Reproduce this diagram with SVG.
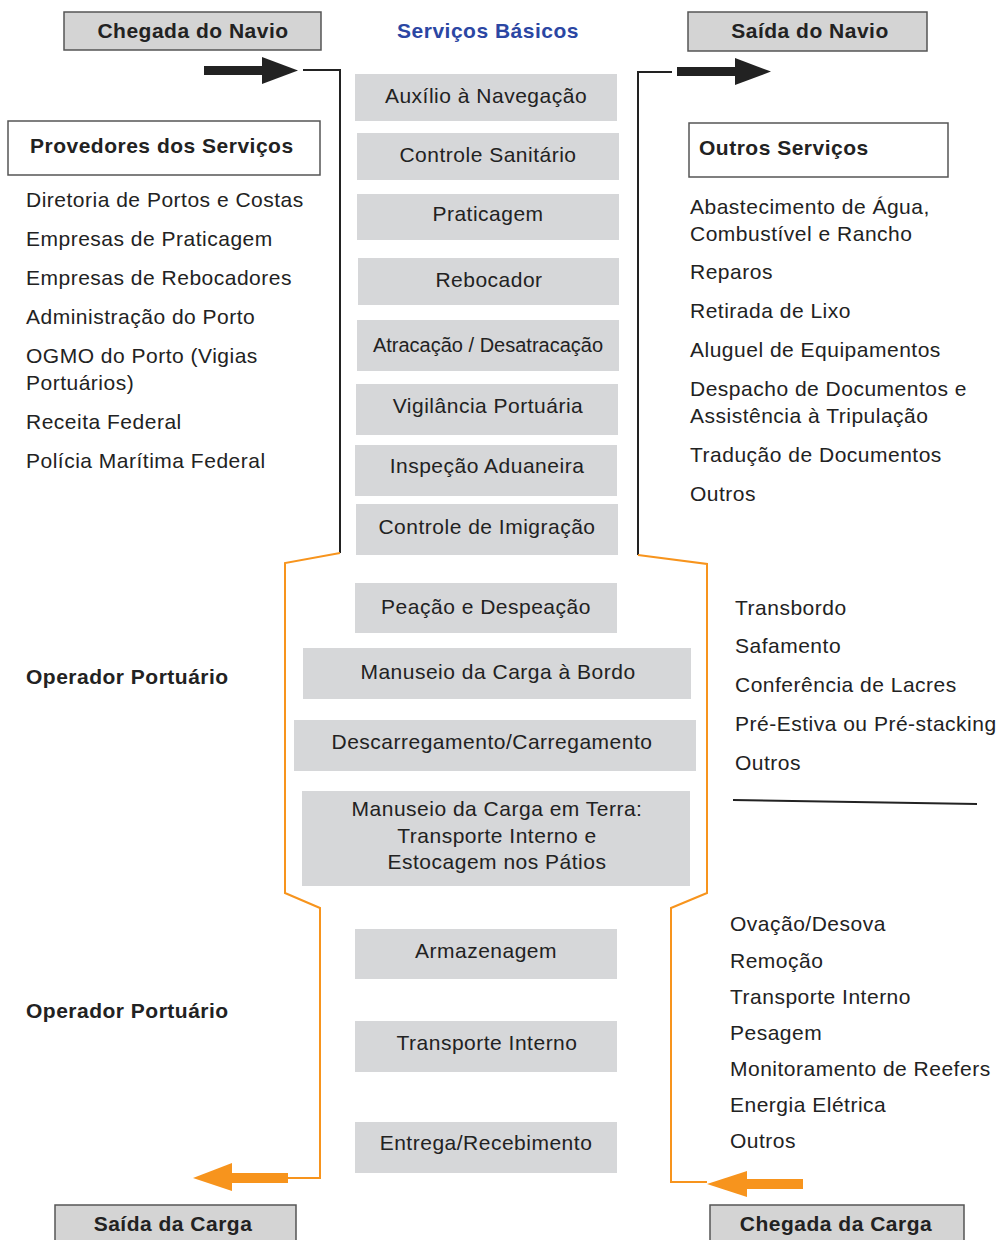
<svg xmlns="http://www.w3.org/2000/svg" width="1000" height="1240" viewBox="0 0 1000 1240">
<style>
  text { font-family: "Liberation Sans", Arial, sans-serif; fill: #222; letter-spacing: 0.5px; }
  .hdr { font-size: 21px; font-weight: bold; }
  .hbox { fill: #d4d4d4; stroke: #555; stroke-width: 1.5; }
  .wbox { fill: #fff; stroke: #555; stroke-width: 1.5; }
  .svc { fill: #d6d7d9; }
  .st { font-size: 21px; text-anchor: middle; }
  .lst { font-size: 21px; }
  .blk { fill: none; stroke: #222; stroke-width: 2; }
  .org { fill: none; stroke: #f7941d; stroke-width: 2; }
</style>
<rect width="1000" height="1240" fill="#fff"/>

<g id="chegada-navio">
  <rect class="hbox" x="64" y="12" width="257" height="38"/>
  <text class="hdr" x="193" y="38" text-anchor="middle">Chegada do Navio</text>
</g>
<g id="saida-navio">
  <rect class="hbox" x="688" y="12" width="239" height="39"/>
  <text class="hdr" x="810" y="38" text-anchor="middle">Saída do Navio</text>
</g>
<g id="titulo">
  <text x="488" y="38" text-anchor="middle" style="font-size:21px;font-weight:bold;fill:#2b46a3">Serviços Básicos</text>
</g>

<g id="provedores">
  <rect class="wbox" x="8" y="121" width="312" height="54"/>
  <text class="hdr" x="30" y="153">Provedores dos Serviços</text>
  <text class="lst" x="26" y="207">Diretoria de Portos e Costas</text>
  <text class="lst" x="26" y="246">Empresas de Praticagem</text>
  <text class="lst" x="26" y="285">Empresas de Rebocadores</text>
  <text class="lst" x="26" y="324">Administração do Porto</text>
  <text class="lst" x="26" y="363">OGMO do Porto (Vigias</text>
  <text class="lst" x="26" y="390">Portuários)</text>
  <text class="lst" x="26" y="429">Receita Federal</text>
  <text class="lst" x="26" y="468">Polícia Marítima Federal</text>
</g>

<g id="outros-servicos">
  <rect class="wbox" x="689" y="123" width="259" height="54"/>
  <text class="hdr" x="699" y="155">Outros Serviços</text>
  <text class="lst" x="690" y="214">Abastecimento de Água,</text>
  <text class="lst" x="690" y="241">Combustível e Rancho</text>
  <text class="lst" x="690" y="279">Reparos</text>
  <text class="lst" x="690" y="318">Retirada de Lixo</text>
  <text class="lst" x="690" y="357">Aluguel de Equipamentos</text>
  <text class="lst" x="690" y="396">Despacho de Documentos e</text>
  <text class="lst" x="690" y="423">Assistência à Tripulação</text>
  <text class="lst" x="690" y="462">Tradução de Documentos</text>
  <text class="lst" x="690" y="501">Outros</text>
</g>

<g id="operador1">
  <text class="hdr" x="26" y="684">Operador Portuário</text>
</g>
<g id="operador2">
  <text class="hdr" x="26" y="1018">Operador Portuário</text>
</g>

<g id="lista-bordo">
  <text class="lst" x="735" y="615">Transbordo</text>
  <text class="lst" x="735" y="653">Safamento</text>
  <text class="lst" x="735" y="692">Conferência de Lacres</text>
  <text class="lst" x="735" y="731">Pré-Estiva ou Pré-stacking</text>
  <text class="lst" x="735" y="770">Outros</text>
  <line x1="733" y1="800" x2="977" y2="804" stroke="#222" stroke-width="2"/>
</g>

<g id="lista-terra">
  <text class="lst" x="730" y="931">Ovação/Desova</text>
  <text class="lst" x="730" y="968">Remoção</text>
  <text class="lst" x="730" y="1004">Transporte Interno</text>
  <text class="lst" x="730" y="1040">Pesagem</text>
  <text class="lst" x="730" y="1076">Monitoramento de Reefers</text>
  <text class="lst" x="730" y="1112">Energia Elétrica</text>
  <text class="lst" x="730" y="1148">Outros</text>
</g>

<g id="s1"><rect class="svc" x="355" y="74" width="262" height="47"/><text class="st" x="486" y="103">Auxílio à Navegação</text></g>
<g id="s2"><rect class="svc" x="357" y="133" width="262" height="47"/><text class="st" x="488" y="162">Controle Sanitário</text></g>
<g id="s3"><rect class="svc" x="357" y="194" width="262" height="46"/><text class="st" x="488" y="221">Praticagem</text></g>
<g id="s4"><rect class="svc" x="358" y="258" width="261" height="47"/><text class="st" x="489" y="287">Rebocador</text></g>
<g id="s5"><rect class="svc" x="357" y="320" width="262" height="51"/><text class="st" x="488" y="352" style="font-size:20px;letter-spacing:0">Atracação / Desatracação</text></g>
<g id="s6"><rect class="svc" x="356" y="384" width="262" height="51"/><text class="st" x="488" y="413">Vigilância Portuária</text></g>
<g id="s7"><rect class="svc" x="355" y="445" width="262" height="51"/><text class="st" x="487" y="473">Inspeção Aduaneira</text></g>
<g id="s8"><rect class="svc" x="356" y="504" width="262" height="51"/><text class="st" x="487" y="534">Controle de Imigração</text></g>
<g id="s9"><rect class="svc" x="355" y="583" width="262" height="50"/><text class="st" x="486" y="614">Peação e Despeação</text></g>
<g id="s10"><rect class="svc" x="303" y="648" width="388" height="51"/><text class="st" x="498" y="679">Manuseio da Carga à Bordo</text></g>
<g id="s11"><rect class="svc" x="294" y="720" width="402" height="51"/><text class="st" x="492" y="749">Descarregamento/Carregamento</text></g>
<g id="s12"><rect class="svc" x="302" y="791" width="388" height="95"/>
  <text class="st" x="497" y="816">Manuseio da Carga em Terra:</text>
  <text class="st" x="497" y="843">Transporte Interno e</text>
  <text class="st" x="497" y="869">Estocagem nos Pátios</text></g>
<g id="s13"><rect class="svc" x="355" y="929" width="262" height="50"/><text class="st" x="486" y="958">Armazenagem</text></g>
<g id="s14"><rect class="svc" x="355" y="1021" width="262" height="51"/><text class="st" x="487" y="1050">Transporte Interno</text></g>
<g id="s15"><rect class="svc" x="355" y="1122" width="262" height="51"/><text class="st" x="486" y="1150">Entrega/Recebimento</text></g>

<g id="saida-carga">
  <rect class="hbox" x="55" y="1205" width="241" height="40"/>
  <text class="hdr" x="173" y="1231" text-anchor="middle">Saída da Carga</text>
</g>
<g id="chegada-carga">
  <rect class="hbox" x="710" y="1205" width="254" height="40"/>
  <text class="hdr" x="836" y="1231" text-anchor="middle">Chegada da Carga</text>
</g>

<g id="connectors">
  <rect x="204" y="66" width="62" height="9" fill="#222"/>
  <polygon points="262,57 298,70.5 262,84" fill="#222"/>
  <polyline class="blk" points="303,70 340,70 340,553"/>
  <polyline class="blk" points="672,72 638,72 638,555"/>
  <rect x="677" y="67" width="62" height="9" fill="#222"/>
  <polygon points="735,58 771,71.5 735,85" fill="#222"/>
  <polyline class="org" points="340,553 285,563 285,893 320,908 320,1178 287,1178"/>
  <polyline class="org" points="638,555 707,564 707,893 671,908 671,1182 707,1182"/>
  <rect x="228" y="1173" width="60" height="10" fill="#f7941d"/>
  <polygon points="232,1163 193,1178 232,1191" fill="#f7941d"/>
  <rect x="744" y="1179" width="59" height="10" fill="#f7941d"/>
  <polygon points="747,1171 707,1184 747,1197" fill="#f7941d"/>
</g>
</svg>
